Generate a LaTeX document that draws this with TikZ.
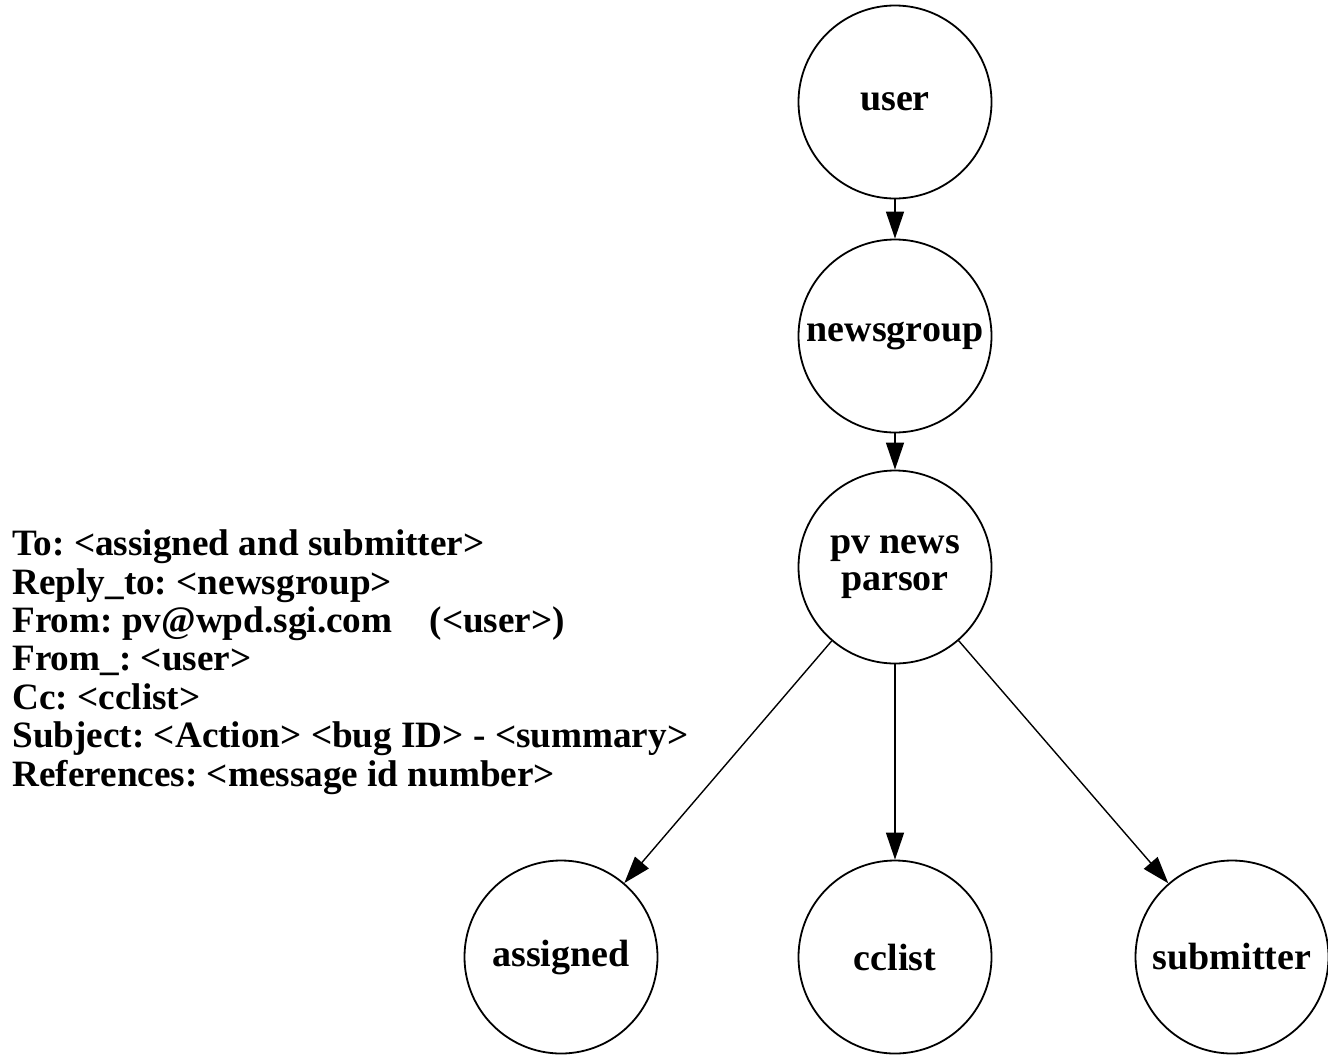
\documentclass[tikz,border=0pt]{standalone}
\usepackage{fontspec}
\setmainfont{Liberation Serif}
\usepackage{tikz}
\usetikzlibrary{arrows.meta}
\frenchspacing

\begin{document}
\begin{tikzpicture}[
  x=0.5pt, y=-0.5pt, font=\fontsize{19}{19.2}\selectfont\bfseries,
  ncirc/.style={draw=black, line width=0.9pt, circle, minimum size=96.5pt,
                inner sep=0pt, align=center},
  narr/.style={-{Triangle[length=13.5pt,width=9pt]}, line width=0.7pt, draw=black},
]
  \clip (0,0) rectangle (1328,1055);
  % chain of nodes
  \node[ncirc] (user) at (895,102) {user};
  \node[ncirc] (news) at (895,336) {newsgroup};
  \node[ncirc] (parsor) at (895,567) {pv news\\[-1pt]parsor};
  % receivers
  \node[ncirc] (assigned) at (561,957) {assigned};
  \node[ncirc] (cclist) at (895,957) {cclist};
  \node[ncirc] (submitter) at (1232,957) {submitter};
  % header text
  \node[anchor=west, align=left, inner sep=0pt,
        font=\fontsize{18.6}{19.2}\selectfont\bfseries] (hdr) at (12,662)
    {To: <assigned and submitter>\\
     Reply\_to: <newsgroup>\\
     From: pv@wpd.sgi.com\quad(<user>)\\
     From\_: <user>\\
     Cc: <cclist>\\
     Subject: <Action> <bug ID> - <summary>\\
     References: <message id number>};
  % arrows
  \draw[narr] (user) -- (news);
  \draw[narr] (news) -- (parsor);
  \foreach \v in {assigned,cclist,submitter} \draw[narr] (parsor) -- (\v);
\end{tikzpicture}
\end{document}
